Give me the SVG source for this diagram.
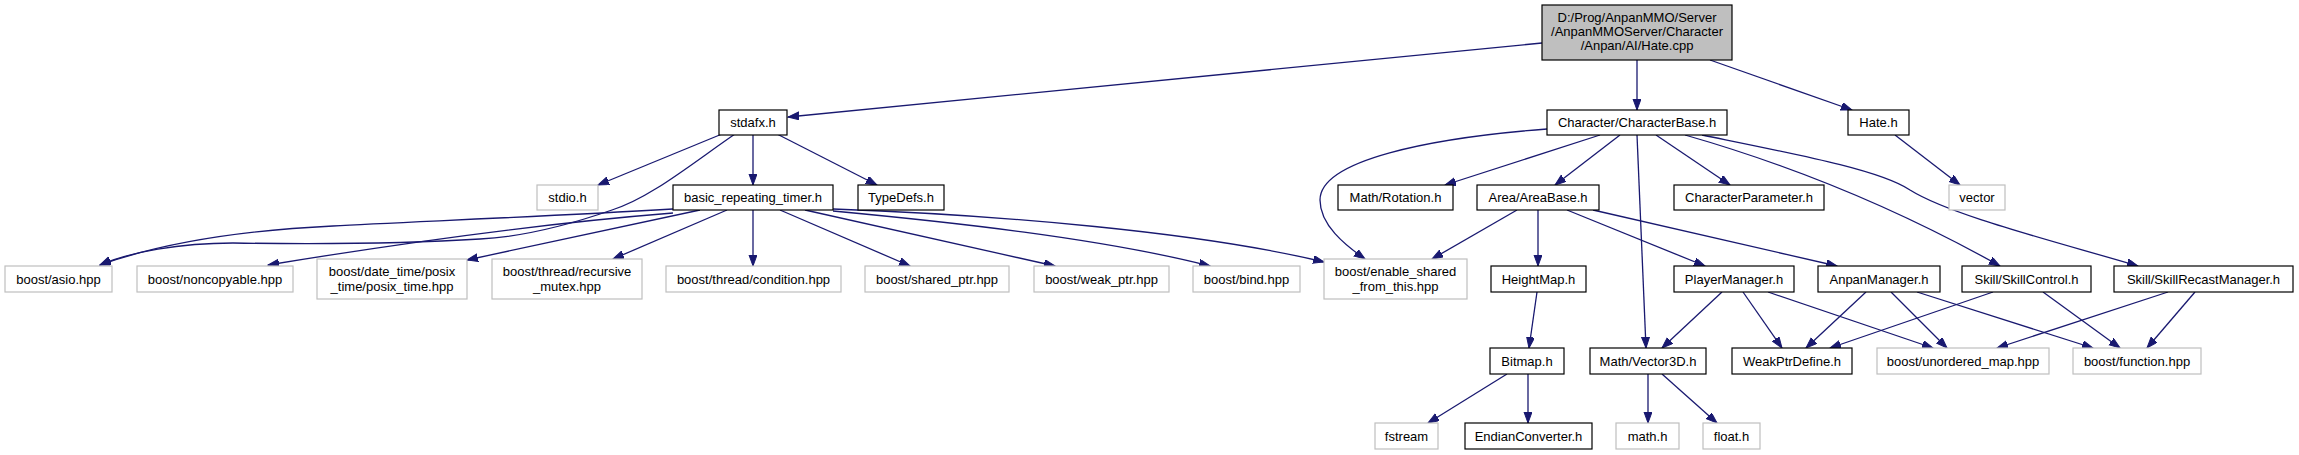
<svg xmlns="http://www.w3.org/2000/svg" width="2299" height="455" viewBox="0 0 2299 455">
<style>
rect{stroke-width:1.2}
.d rect{fill:#fff;stroke:#000}
.u rect{fill:#fff;stroke:#bfbfbf}
.r rect{fill:#bfbfbf;stroke:#000}
text{font-family:"Liberation Sans",Arial,sans-serif;font-size:13px;fill:#000;text-anchor:middle}
#edges path{fill:none;stroke:#191970;stroke-width:1.3;marker-end:url(#ah)}
</style>
<defs>
<marker id="ah" markerUnits="userSpaceOnUse" markerWidth="12" markerHeight="10" refX="11" refY="4" orient="auto">
<path d="M0,0 L11,4 L0,8 z" fill="#191970" stroke="#191970" stroke-width="1"/>
</marker>
</defs>
<rect width="2299" height="455" fill="#fff"/>
<g id="edges">
<path d="M1542,43 L788,117"/>
<path d="M1637,60 L1637,110"/>
<path d="M1710,60 L1852,110"/>
<path d="M722,134 L598,185"/>
<path d="M735,134 C690,165 650,198 612,210 C560,228 520,237 480,239 C400,244 300,244 233,243 C180,243 130,252 100,265"/>
<path d="M673,209 C520,218 400,222 333,226 C250,230 170,240 100,265"/>
<path d="M673,213 C560,222 420,240 268,265"/>
<path d="M700,210 L467,260"/>
<path d="M727,210 L613,259"/>
<path d="M753,210 L753,266"/>
<path d="M780,210 L910,266"/>
<path d="M805,210 L1055,266"/>
<path d="M833,211 C950,222 1100,238 1210,266"/>
<path d="M833,209 C1000,215 1200,232 1324,262"/>
<path d="M753,134 L753,185"/>
<path d="M777,134 L877,185"/>
<path d="M1547,129 C1430,138 1320,160 1320,200 C1320,225 1345,245 1365,259"/>
<path d="M1600,135 L1445,185"/>
<path d="M1620,135 L1555,185"/>
<path d="M1637,135 L1646,348"/>
<path d="M1656,135 L1730,185"/>
<path d="M1685,135 C1790,165 1900,210 2000,266"/>
<path d="M1702,135 C1800,155 1880,170 1910,190 C1950,215 2050,240 2138,266"/>
<path d="M1895,135 L1960,185"/>
<path d="M1517,210 L1432,259"/>
<path d="M1538,210 L1538,266"/>
<path d="M1567,210 L1705,266"/>
<path d="M1593,210 L1837,266"/>
<path d="M1537,292 L1529,348"/>
<path d="M1507,374 L1428,423"/>
<path d="M1528,374 L1528,423"/>
<path d="M1648,374 L1648,423"/>
<path d="M1662,374 L1717,423"/>
<path d="M1722,292 L1662,348"/>
<path d="M1743,292 L1782,348"/>
<path d="M1768,292 L1933,348"/>
<path d="M1866,292 L1806,348"/>
<path d="M1891,292 L1947,348"/>
<path d="M1917,292 L2093,348"/>
<path d="M1993,292 L1830,348"/>
<path d="M2043,292 L2120,348"/>
<path d="M2168,292 L1997,348"/>
<path d="M2195,292 L2147,348"/>
</g>
<g id="n_root" class="r"><rect x="1542" y="5" width="190" height="55"/><text x="1637" y="22">D:/Prog/AnpanMMO/Server</text><text x="1637" y="36">/AnpanMMOServer/Character</text><text x="1637" y="50">/Anpan/AI/Hate.cpp</text></g>
<g id="n_stdafx" class="d"><rect x="719" y="110" width="68" height="25"/><text x="753" y="127">stdafx.h</text></g>
<g id="n_brt" class="d"><rect x="673" y="185" width="160" height="25"/><text x="753" y="202">basic_repeating_timer.h</text></g>
<g id="n_typedefs" class="d"><rect x="858" y="185" width="86" height="25"/><text x="901" y="202">TypeDefs.h</text></g>
<g id="n_stdio" class="u"><rect x="537" y="185" width="61" height="25"/><text x="567.5" y="202">stdio.h</text></g>
<g id="n_asio" class="u"><rect x="5" y="266" width="107" height="26"/><text x="58.5" y="283.5">boost/asio.hpp</text></g>
<g id="n_noncopyable" class="u"><rect x="137" y="266" width="156" height="26"/><text x="215" y="283.5">boost/noncopyable.hpp</text></g>
<g id="n_datetime" class="u"><rect x="317" y="259" width="150" height="40"/><text x="392" y="276">boost/date_time/posix</text><text x="392" y="291">_time/posix_time.hpp</text></g>
<g id="n_recmutex" class="u"><rect x="492" y="259" width="150" height="40"/><text x="567" y="276">boost/thread/recursive</text><text x="567" y="291">_mutex.hpp</text></g>
<g id="n_condition" class="u"><rect x="666" y="266" width="175" height="26"/><text x="753.5" y="283.5">boost/thread/condition.hpp</text></g>
<g id="n_shared" class="u"><rect x="865" y="266" width="144" height="26"/><text x="937" y="283.5">boost/shared_ptr.hpp</text></g>
<g id="n_weak" class="u"><rect x="1034" y="266" width="135" height="26"/><text x="1101.5" y="283.5">boost/weak_ptr.hpp</text></g>
<g id="n_bind" class="u"><rect x="1193" y="266" width="107" height="26"/><text x="1246.5" y="283.5">boost/bind.hpp</text></g>
<g id="n_esft" class="u"><rect x="1324" y="259" width="143" height="40"/><text x="1395.5" y="276">boost/enable_shared</text><text x="1395.5" y="291">_from_this.hpp</text></g>
<g id="n_rotation" class="d"><rect x="1338" y="185" width="115" height="25"/><text x="1395.5" y="202">Math/Rotation.h</text></g>
<g id="n_charbase" class="d"><rect x="1547" y="110" width="180" height="25"/><text x="1637" y="127">Character/CharacterBase.h</text></g>
<g id="n_hate" class="d"><rect x="1848" y="110" width="61" height="25"/><text x="1878.5" y="127">Hate.h</text></g>
<g id="n_areabase" class="d"><rect x="1477" y="185" width="122" height="25"/><text x="1538" y="202">Area/AreaBase.h</text></g>
<g id="n_charparam" class="d"><rect x="1674" y="185" width="150" height="25"/><text x="1749" y="202">CharacterParameter.h</text></g>
<g id="n_vector" class="u"><rect x="1949" y="185" width="56" height="25"/><text x="1977" y="202">vector</text></g>
<g id="n_heightmap" class="d"><rect x="1491" y="266" width="95" height="26"/><text x="1538.5" y="283.5">HeightMap.h</text></g>
<g id="n_playermgr" class="d"><rect x="1674" y="266" width="120" height="26"/><text x="1734" y="283.5">PlayerManager.h</text></g>
<g id="n_anpanmgr" class="d"><rect x="1818" y="266" width="122" height="26"/><text x="1879" y="283.5">AnpanManager.h</text></g>
<g id="n_skillctrl" class="d"><rect x="1962" y="266" width="129" height="26"/><text x="2026.5" y="283.5">Skill/SkillControl.h</text></g>
<g id="n_skillrecast" class="d"><rect x="2114" y="266" width="179" height="26"/><text x="2203.5" y="283.5">Skill/SkillRecastManager.h</text></g>
<g id="n_bitmap" class="d"><rect x="1490" y="348" width="74" height="26"/><text x="1527" y="365.5">Bitmap.h</text></g>
<g id="n_vector3d" class="d"><rect x="1590" y="348" width="116" height="26"/><text x="1648" y="365.5">Math/Vector3D.h</text></g>
<g id="n_weakptr" class="d"><rect x="1732" y="348" width="120" height="26"/><text x="1792" y="365.5">WeakPtrDefine.h</text></g>
<g id="n_umap" class="u"><rect x="1877" y="348" width="172" height="26"/><text x="1963" y="365.5">boost/unordered_map.hpp</text></g>
<g id="n_function" class="u"><rect x="2073" y="348" width="128" height="26"/><text x="2137" y="365.5">boost/function.hpp</text></g>
<g id="n_fstream" class="u"><rect x="1375" y="423" width="63" height="26"/><text x="1406.5" y="440.5">fstream</text></g>
<g id="n_endian" class="d"><rect x="1465" y="423" width="127" height="26"/><text x="1528.5" y="440.5">EndianConverter.h</text></g>
<g id="n_math" class="u"><rect x="1616" y="423" width="63" height="26"/><text x="1647.5" y="440.5">math.h</text></g>
<g id="n_float" class="u"><rect x="1703" y="423" width="57" height="26"/><text x="1731.5" y="440.5">float.h</text></g>
</svg>
